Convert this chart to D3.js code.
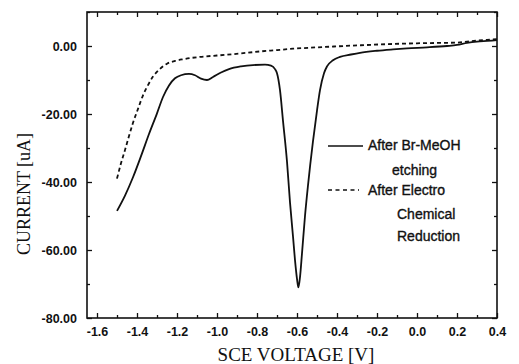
<!DOCTYPE html>
<html>
<head>
<meta charset="utf-8">
<script src="https://cdn.jsdelivr.net/npm/d3@7"></script>
<style>
  body { margin: 0; background: #fff; }
  svg { display: block; }
</style>
</head>
<body>
<div id="container"></div>
<script>
/* CONSTANTS AND GLOBALS */
const width = 519,
height = 364,
margin = { top: 12, bottom: 46, left: 87, right: 22 };

// DATA
// After Br-MeOH etching  [voltage V, current uA]
const etching = [
  [-1.50, -48.5], [-1.46, -44.0], [-1.42, -38.6], [-1.38, -32.4], [-1.34, -25.9],
  [-1.30, -19.8], [-1.27, -15.0], [-1.24, -11.6], [-1.21, -9.5], [-1.18, -8.6],
  [-1.14, -8.2], [-1.11, -8.6], [-1.08, -9.6], [-1.05, -10.0], [-1.02, -9.1],
  [-0.98, -7.8], [-0.94, -6.8], [-0.88, -6.0], [-0.82, -5.6], [-0.76, -5.5],
  [-0.73, -5.8], [-0.71, -6.8], [-0.70, -8.0], [-0.685, -13.0], [-0.67, -22.0],
  [-0.65, -34.0], [-0.635, -46.0], [-0.62, -56.0], [-0.61, -63.0], [-0.60, -68.5],
  [-0.593, -71.0], [-0.585, -68.0], [-0.575, -61.0], [-0.56, -50.0], [-0.545, -41.0],
  [-0.52, -28.0], [-0.50, -19.0], [-0.485, -13.0], [-0.465, -8.0], [-0.45, -6.0],
  [-0.42, -4.2], [-0.385, -3.2], [-0.33, -2.5], [-0.285, -2.0], [-0.20, -1.4],
  [-0.12, -1.0], [-0.05, -0.7], [0.05, -0.4], [0.15, 0.0], [0.20, 0.3],
  [0.25, 0.9], [0.30, 1.3], [0.35, 1.5], [0.40, 1.7]
];

// After Electro Chemical Reduction
const reduction = [
  [-1.50, -39.0], [-1.48, -34.5], [-1.46, -30.6], [-1.44, -26.5], [-1.42, -22.6],
  [-1.395, -18.5], [-1.37, -14.5], [-1.345, -11.5], [-1.32, -9.0], [-1.29, -7.0],
  [-1.25, -5.2], [-1.21, -4.4], [-1.17, -3.9], [-1.085, -3.2], [-1.00, -2.8],
  [-0.92, -2.4], [-0.85, -2.0], [-0.785, -1.6], [-0.70, -1.2], [-0.62, -0.8],
  [-0.50, -0.4], [-0.40, -0.1], [-0.25, 0.3], [-0.12, 0.6], [0.00, 0.8],
  [0.10, 0.9], [0.20, 1.0], [0.25, 1.3], [0.30, 1.6], [0.35, 1.8], [0.40, 2.0]
];

const xTicks = [-1.6, -1.4, -1.2, -1.0, -0.8, -0.6, -0.4, -0.2, 0.0, 0.2, 0.4];
const xMinorTicks = [-1.5, -1.3, -1.1, -0.9, -0.7, -0.5, -0.3, -0.1, 0.1, 0.3];
const yTicks = [0, -20, -40, -60, -80];
const yMinorTicks = [10, -10, -30, -50, -70];

const legendLabels = [
  ["After Br-MeOH", "etching"],
  ["After Electro", "Chemical", "Reduction"]
];

const svg = d3.select("#container")
  .append("svg")
  .attr("width", width)
  .attr("height", height);

// SCALES
const xScale = d3.scaleLinear()
  .domain([-1.65, 0.4])
  .range([margin.left, width - margin.right]);

const yScale = d3.scaleLinear()
  .domain([-80, 10])
  .range([height - margin.bottom, margin.top]);

const tickFont = "'Liberation Sans', Arial, sans-serif";
const ink = "#111";

// AXES (ticks point inward, on all four sides)
const xAxisBottom = d3.axisBottom(xScale).tickValues(xTicks)
  .tickSize(-5).tickPadding(9).tickFormat(d => d.toFixed(1));
const xAxisTop = d3.axisTop(xScale).tickValues(xTicks).tickSize(-5).tickFormat("");
const yAxisLeft = d3.axisLeft(yScale).tickValues(yTicks)
  .tickSize(-5).tickPadding(10).tickFormat(d => d.toFixed(2));
const yAxisRight = d3.axisRight(yScale).tickValues(yTicks).tickSize(-5).tickFormat("");

const minorBottom = d3.axisBottom(xScale).tickValues(xMinorTicks).tickSize(-3).tickFormat("");
const minorTop = d3.axisTop(xScale).tickValues(xMinorTicks).tickSize(-3).tickFormat("");
const minorLeft = d3.axisLeft(yScale).tickValues(yMinorTicks).tickSize(-3).tickFormat("");
const minorRight = d3.axisRight(yScale).tickValues(yMinorTicks).tickSize(-3).tickFormat("");

const bottomY = height - margin.bottom,
  rightX = width - margin.right;

function drawAxis(axis, transform) {
  const g = svg.append("g").attr("transform", transform).call(axis);
  g.selectAll("path.domain").remove();
  g.selectAll("line").attr("stroke", ink).attr("stroke-width", 1.3);
  g.selectAll("text")
    .attr("fill", ink)
    .style("font-family", tickFont)
    .style("font-size", "12.5px")
    .style("font-weight", "bold");
  return g;
}

drawAxis(xAxisBottom, `translate(0,${bottomY})`);
drawAxis(minorBottom, `translate(0,${bottomY})`);
drawAxis(xAxisTop, `translate(0,${margin.top})`);
drawAxis(minorTop, `translate(0,${margin.top})`);
drawAxis(yAxisLeft, `translate(${margin.left},0)`);
drawAxis(minorLeft, `translate(${margin.left},0)`);
drawAxis(yAxisRight, `translate(${rightX},0)`);
drawAxis(minorRight, `translate(${rightX},0)`);

// FRAME
svg.append("rect")
  .attr("x", margin.left)
  .attr("y", margin.top)
  .attr("width", rightX - margin.left)
  .attr("height", bottomY - margin.top)
  .attr("fill", "none")
  .attr("stroke", ink)
  .attr("stroke-width", 1.6);

// LINES
const lineGen = d3.line()
  .x(d => xScale(d[0]))
  .y(d => yScale(d[1]))
  .curve(d3.curveMonotoneX);

svg.append("path")
  .datum(etching)
  .attr("d", lineGen)
  .attr("fill", "none")
  .attr("stroke", ink)
  .attr("stroke-width", 1.8);

svg.append("path")
  .datum(reduction)
  .attr("d", lineGen)
  .attr("fill", "none")
  .attr("stroke", ink)
  .attr("stroke-width", 1.8)
  .attr("stroke-dasharray", "4,3");

// LEGEND
const legend = svg.append("g")
  .style("font-family", tickFont)
  .style("font-size", "14px")
  .attr("stroke", ink)
  .attr("stroke-width", 0.35);

legend.append("line")
  .attr("x1", 328).attr("x2", 363).attr("y1", 146).attr("y2", 146)
  .attr("stroke", ink).attr("stroke-width", 1.6);
legend.append("line")
  .attr("x1", 328).attr("x2", 359).attr("y1", 190).attr("y2", 190)
  .attr("stroke", ink).attr("stroke-width", 1.6).attr("stroke-dasharray", "4,3.5");

const legendPos = [
  [[368, 150], [392, 175]],
  [[368, 195], [397, 219], [397, 241]]
];

legendLabels.forEach((lines, i) => {
  lines.forEach((t, j) => {
    legend.append("text")
      .attr("x", legendPos[i][j][0])
      .attr("y", legendPos[i][j][1])
      .attr("fill", ink)
      .text(t);
  });
});

// AXIS TITLES
svg.append("text")
  .attr("x", 296)
  .attr("y", 361)
  .attr("text-anchor", "middle")
  .style("font-family", "'Liberation Serif', 'Times New Roman', serif")
  .style("font-size", "19px")
  .attr("fill", ink)
  .text("SCE VOLTAGE [V]");

svg.append("text")
  .attr("transform", "translate(30,194) rotate(-90)")
  .attr("text-anchor", "middle")
  .style("font-family", "'Liberation Serif', 'Times New Roman', serif")
  .style("font-size", "18px")
  .attr("fill", ink)
  .text("CURRENT [uA]");
</script>
</body>
</html>
